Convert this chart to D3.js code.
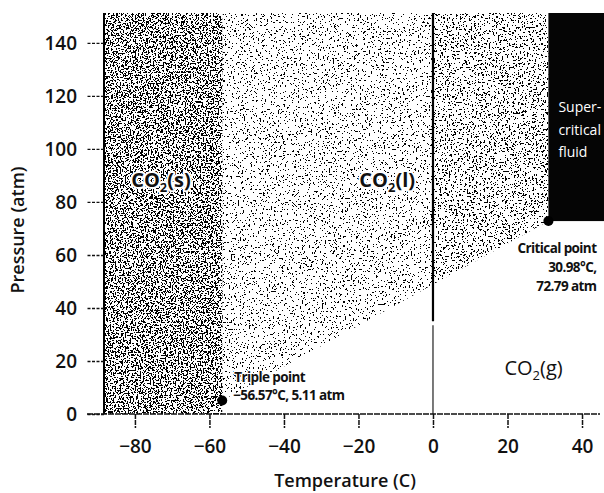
<!DOCTYPE html>
<html>
<head>
<meta charset="utf-8">
<script src="https://cdn.jsdelivr.net/npm/d3@7"></script>
<style>
  body { margin: 0; background: #fff; }
  svg text { font-family: "Open Sans", "Noto Sans", sans-serif; fill: #111; }
</style>
</head>
<body>
<div id="chart"></div>
<script>
// axis ticks
const tempTicks = [-80, -60, -40, -20, 0, 20, 40];
const pressTicks = [0, 20, 40, 60, 80, 100, 120, 140];

// phase diagram key points (temperature C, pressure atm)
const triplePoint = { t: -56.57, p: 5.11 };
const criticalPoint = { t: 30.98, p: 72.79 };

// phase labels, anchored in data units
const phaseNames = ['s', 'l', 'g'];
const phaseTemps = [-73, -12.3, 27];
const phasePress = [85.7, 85.7, 14.7];

const width = 604, height = 493;
const tMin = -88.3, tMax = 45.9, pMax = 151.3;

const svg = d3.select('#chart').append('svg')
    .attr('width', width)
    .attr('height', height);

const xScale = d3.scaleLinear().domain([tMin, tMax]).range([104, 604]);
const yScale = d3.scaleLinear().domain([0, pMax]).range([414, 13]);

const defs = svg.append('defs');

defs.append('clipPath').attr('id', 'plot-clip')
    .append('rect')
    .attr('x', xScale(tMin)).attr('y', yScale(pMax))
    .attr('width', xScale(tMax) - xScale(tMin))
    .attr('height', yScale(0) - yScale(pMax));

// speckled fill, like the scanned stipple
function speckle(id, threshold, freq, seed) {
    const f = defs.append('filter').attr('id', id)
        .attr('x', 0).attr('y', 0).attr('width', 1).attr('height', 1)
        .attr('color-interpolation-filters', 'sRGB');
    f.append('feTurbulence')
        .attr('type', 'fractalNoise')
        .attr('baseFrequency', freq)
        .attr('numOctaves', 2)
        .attr('seed', seed)
        .attr('result', 'noise');
    f.append('feColorMatrix').attr('in', 'noise').attr('type', 'matrix')
        .attr('values', '0 0 0 0 0  0 0 0 0 0  0 0 0 0 0  1 0 0 0 0')
        .attr('result', 'a');
    const n = 100;
    const table = d3.range(n).map(i => (i / n >= threshold ? 1 : 0)).join(' ');
    f.append('feComponentTransfer').attr('in', 'a').attr('result', 'mask')
        .append('feFuncA').attr('type', 'discrete').attr('tableValues', table);
    f.append('feComposite').attr('in', 'SourceGraphic').attr('in2', 'mask').attr('operator', 'in');
}
speckle('dense', 0.535, 0.6, 4);
speckle('light', 0.65, 0.55, 9);
speckle('medium', 0.61, 0.55, 13);

const plot = svg.append('g').attr('clip-path', 'url(#plot-clip)');

// liquid/gas boundary, straight line from triple to critical point
const boundaryAt = t => triplePoint.p + (t - triplePoint.t) / (criticalPoint.t - triplePoint.t) * (criticalPoint.p - triplePoint.p);
const line = d3.line().x(d => xScale(d[0])).y(d => yScale(d[1]));

// solid region
plot.append('rect')
    .attr('x', xScale(tMin))
    .attr('y', yScale(pMax))
    .attr('width', xScale(triplePoint.t) - xScale(tMin))
    .attr('height', yScale(0) - yScale(pMax))
    .attr('fill', '#000')
    .attr('filter', 'url(#dense)');

// liquid region, left of 0 C
plot.append('path')
    .attr('d', line([
        [triplePoint.t, triplePoint.p], [triplePoint.t, pMax], [0, pMax], [0, boundaryAt(0)]
    ]) + 'Z')
    .attr('fill', '#000')
    .attr('filter', 'url(#light)');

// liquid region, right of 0 C
plot.append('path')
    .attr('d', line([
        [0, boundaryAt(0)], [0, pMax], [criticalPoint.t, pMax], [criticalPoint.t, criticalPoint.p]
    ]) + 'Z')
    .attr('fill', '#000')
    .attr('filter', 'url(#medium)');

// supercritical fluid
plot.append('rect')
    .attr('x', xScale(criticalPoint.t))
    .attr('y', yScale(pMax))
    .attr('width', xScale(tMax) - xScale(criticalPoint.t))
    .attr('height', yScale(criticalPoint.p) - yScale(pMax))
    .attr('fill', '#050505');

// 0 C marker line
svg.append('line')
    .attr('x1', xScale(0)).attr('x2', xScale(0))
    .attr('y1', yScale(pMax)).attr('y2', yScale(35))
    .attr('stroke', '#000').attr('stroke-width', 2.2);
svg.append('line')
    .attr('x1', xScale(0)).attr('x2', xScale(0))
    .attr('y1', yScale(33.5)).attr('y2', yScale(0))
    .attr('stroke', '#222').attr('stroke-width', 1.2);

// left axis line
svg.append('line')
    .attr('x1', xScale(tMin)).attr('x2', xScale(tMin))
    .attr('y1', yScale(pMax)).attr('y2', yScale(0))
    .attr('stroke', '#000').attr('stroke-width', 2);

// bottom axis
const xAxis = d3.axisBottom(xScale)
    .tickValues(tempTicks)
    .tickSize(14)
    .tickPadding(12)
    .tickFormat(d => (d < 0 ? '\u2212' + Math.abs(d) : d));

const gx = svg.append('g')
    .attr('transform', `translate(0,${yScale(0)})`)
    .call(xAxis);
gx.select('.domain').remove();
gx.selectAll('.tick line').attr('stroke', '#111').attr('stroke-width', 1.5).attr('stroke-dasharray', '5,1');
gx.selectAll('.tick text')
    .attr('font-size', '19px').attr('font-weight', 600).attr('fill', '#111')
    .attr('font-family', '"Open Sans", sans-serif');

svg.append('line')
    .attr('x1', 87).attr('x2', 600)
    .attr('y1', yScale(0)).attr('y2', yScale(0))
    .attr('stroke', '#111').attr('stroke-width', 1.6)
    .attr('stroke-dasharray', '6,1');

// left axis ticks
const yAxis = d3.axisLeft(yScale)
    .tickValues(pressTicks)
    .tickSize(17)
    .tickPadding(10);

const gy = svg.append('g')
    .attr('transform', `translate(${xScale(tMin)},0)`)
    .call(yAxis);
gy.select('.domain').remove();
gy.selectAll('.tick line').attr('stroke', '#111').attr('stroke-width', 1.3).attr('stroke-dasharray', '3,1.5');
gy.selectAll('.tick text')
    .attr('font-size', '19px').attr('font-weight', 600).attr('fill', '#111')
    .attr('font-family', '"Open Sans", sans-serif');

// axis titles
svg.append('text')
    .attr('x', 345).attr('y', 487)
    .attr('text-anchor', 'middle')
    .attr('font-size', '18px').attr('font-weight', 600)
    .text('Temperature (C)');

svg.append('text')
    .attr('transform', `translate(24,230) rotate(-90)`)
    .attr('text-anchor', 'middle')
    .attr('font-size', '18px').attr('font-weight', 600)
    .text('Pressure (atm)');

// phase labels
phaseNames.forEach((name, i) => {
    const t = svg.append('text')
        .attr('x', xScale(phaseTemps[i]))
        .attr('y', yScale(phasePress[i]))
        .attr('text-anchor', 'middle')
        .attr('font-size', '20px')
        .attr('font-weight', name === 'g' ? 400 : 700)
        .attr('stroke', '#fff').attr('stroke-width', name === 'g' ? 0 : 4)
        .attr('stroke-linejoin', 'round')
        .attr('paint-order', 'stroke');
    t.append('tspan').text('CO');
    t.append('tspan').attr('font-size', '13px').attr('dy', 5).text('2');
    t.append('tspan').attr('dy', -5).text(`(${name})`);
});

// supercritical label
['Super-', 'critical', 'fluid'].forEach((s, i) => {
    svg.append('text')
        .attr('x', xScale(criticalPoint.t) + 10)
        .attr('y', 112 + i * 22.5)
        .attr('font-size', '14px')
        .style('fill', '#fff')
        .text(s);
});

// points
[triplePoint, criticalPoint].forEach(pt => {
    svg.append('circle')
        .attr('cx', xScale(pt.t)).attr('cy', yScale(pt.p))
        .attr('r', 5)
        .attr('fill', '#000');
});

// point annotations
const noteStyle = sel => sel
    .attr('font-size', '13.5px').attr('font-weight', 700).attr('letter-spacing', '-0.6')
    .attr('stroke', '#fff').attr('stroke-width', 2.5).attr('stroke-linejoin', 'round')
    .attr('paint-order', 'stroke');

const tx = xScale(triplePoint.t), ty = yScale(triplePoint.p);
svg.append('text')
    .attr('x', tx + 12).attr('y', ty - 18)
    .call(noteStyle)
    .text('Triple point');
svg.append('text')
    .attr('x', tx + 11).attr('y', ty)
    .call(noteStyle)
    .text('\u221256.57\u00b0C, 5.11 atm');

const cx = xScale(criticalPoint.t), cy = yScale(criticalPoint.p);
['Critical point', '30.98\u00b0C,', '72.79 atm'].forEach((s, i) => {
    svg.append('text')
        .attr('x', cx + 48).attr('y', cy + 32 + i * 19)
        .attr('text-anchor', 'end')
        .call(noteStyle)
        .text(s);
});
</script>
</body>
</html>
